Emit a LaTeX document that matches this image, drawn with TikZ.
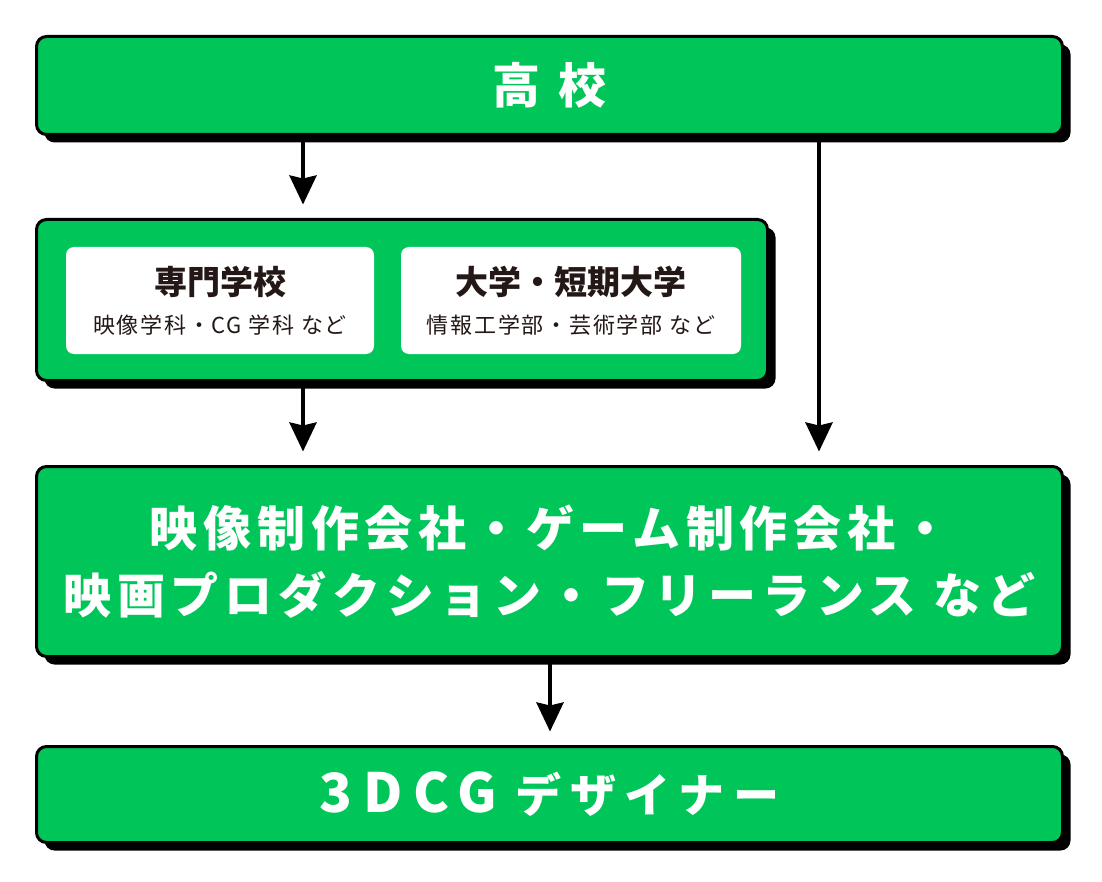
\documentclass[tikz,border=0pt]{standalone}
\usepackage{fontspec}
\setmainfont{Noto Sans CJK JP}
\usetikzlibrary{arrows.meta,shadows}
\definecolor{kgreen}{RGB}{0,198,90}
\definecolor{ink}{HTML}{231815}

\begin{document}
\begin{tikzpicture}
  [x=1pt,y=-1pt,every node/.style={inner sep=0pt},
   box/.style={draw=black,line width=3pt,fill=kgreen,rounded corners=10pt,
     drop shadow={shadow xshift=8pt,shadow yshift=-8pt,fill=black,opacity=1},
     text=white,align=center},
   card/.style={fill=white,rounded corners=8pt,text=ink,align=center,
     font=\fontsize{22}{39}\selectfont\addfontfeature{LetterSpace=8}},
   arr/.style={line width=4pt,-{Stealth[length=29pt,width=27pt,inset=3pt]},
     shorten >=13.5pt}]
  \useasboundingbox (0,0) rectangle (1102,882);

  \node[box,minimum width=1026pt,minimum height=98pt,
        font=\fontsize{48}{58}\selectfont\bfseries\addfontfeature{LetterSpace=36}]
    (kou) at (549.5,85.5) {高校};
  \node[box,minimum width=731pt,minimum height=161pt] (sen) at (402,300) {};
  \node[card,minimum width=308pt,minimum height=107pt] (senL) at (220,300.5)
    {{\fontsize{33}{39}\selectfont\bfseries\addfontfeature{LetterSpace=0}専門学校}\\映像学科・CG 学科 など};
  \node[card,minimum width=340pt,minimum height=107pt] (senR) at (571,300.5)
    {{\fontsize{33}{39}\selectfont\bfseries\addfontfeature{LetterSpace=0}大学・短期大学}\\情報工学部・芸術学部 など};
  \node[box,minimum width=1026pt,minimum height=190pt,
        font=\fontsize{48}{67}\selectfont\bfseries\addfontfeature{LetterSpace=12}]
    (kig) at (549.5,561.5)
    {映像制作会社・ゲーム制作会社・\\映画プロダクション・フリーランス など};
  \node[box,minimum width=1026pt,minimum height=96pt,
        font=\fontsize{46}{56}\selectfont\bfseries]
    (dsg) at (549.5,794.5)
    {{\fontsize{54}{56}\selectfont\addfontfeature{LetterSpace=20}3DCG}\hspace{18pt}{\addfontfeature{LetterSpace=19}デザイナー}};

  \coordinate (ax1) at (303,0);
  \coordinate (ax2) at (819,0);
  \coordinate (ax3) at (550,0);

  \foreach \from/\to/\via in {kou/sen/ax1,kou/kig/ax2,sen/kig/ax1,kig/dsg/ax3}
    \draw [arr] (\from.south -| \via) -- (\to.north -| \via);
\end{tikzpicture}
\end{document}
